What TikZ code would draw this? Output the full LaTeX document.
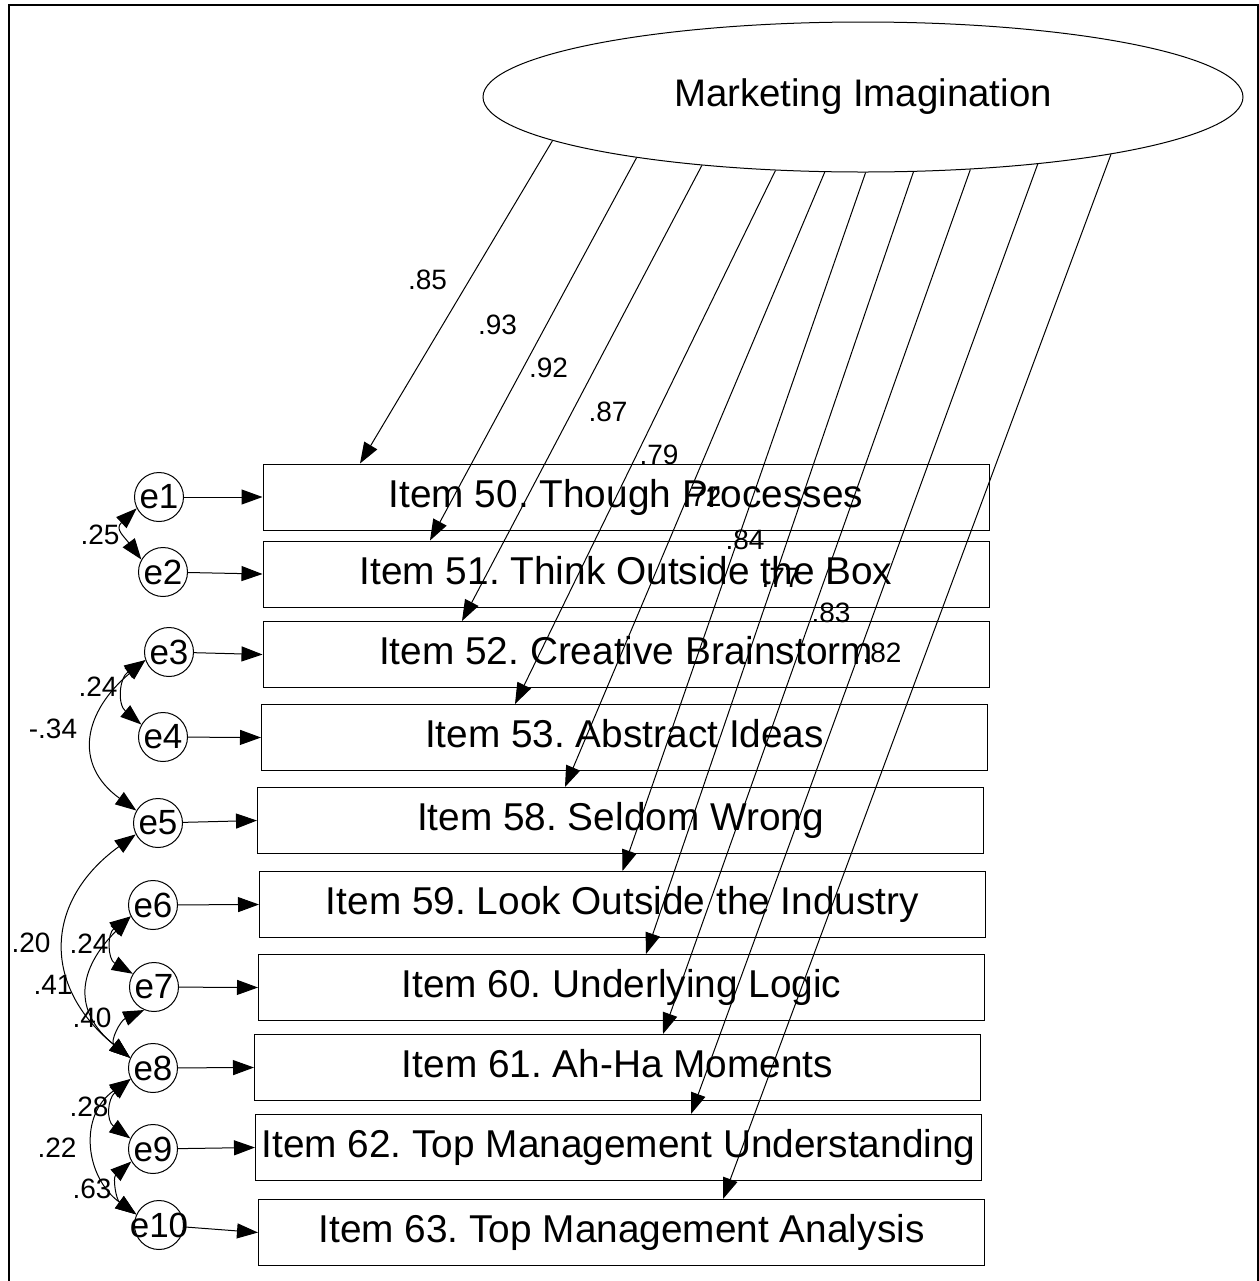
\documentclass[tikz,border=0pt]{standalone}
\usepackage{fontspec}
\setmainfont{Liberation Sans}
\usetikzlibrary{shapes.geometric,arrows.meta}
\frenchspacing

\begin{document}
\begin{tikzpicture}[x=0.5pt,y=-0.5pt,line width=0.5pt,
  >={Triangle[length=10.5pt,width=7.5pt]},
  item/.style={draw,inner sep=0pt,minimum width=363pt,minimum height=33pt,
    text height=14pt,text depth=3.9pt,font=\fontsize{19.4}{23}\selectfont},
  err/.style={draw,circle,inner sep=0pt,minimum size=24.5pt,
    font=\fontsize{17.5}{20}\selectfont},
  num/.style={inner sep=0pt,font=\fontsize{14}{16}\selectfont}]
\useasboundingbox (0,0) rectangle (1259,1281);
\draw [line width=1pt] (9,1281) -- (9,5) -- (1258,5) -- (1258,1281);
\path
  (863,97) node [draw,ellipse,inner sep=0pt,minimum width=380pt,minimum height=75pt,
    font=\fontsize{19.2}{23}\selectfont] (mi) {Marketing Imagination}
  (626,497) node [item] (i50) {Item 50. Though Processes}
  (626,574) node [item] (i51) {Item 51. Think Outside the Box}
  (626,654.5) node [item] (i52) {Item 52. Creative Brainstorm}
  (624.5,737.5) node [item] (i53) {Item 53. Abstract Ideas}
  (620.5,820.5) node [item] (i58) {Item 58. Seldom Wrong}
  (622.5,904.5) node [item] (i59) {Item 59. Look Outside the Industry}
  (621.5,987.5) node [item] (i60) {Item 60. Underlying Logic}
  (617.5,1067.5) node [item] (i61) {Item 61. Ah-Ha Moments}
  (618.5,1147.5) node [item] (i62) {Item 62. Top Management Understanding}
  (621.5,1232.5) node [item] (i63) {Item 63. Top Management Analysis};
\path
  (159,497) node [err] (e1) {e1}
  (163,572) node [err] (e2) {e2}
  (169,652) node [err] (e3) {e3}
  (163,737) node [err] (e4) {e4}
  (158,823) node [err] (e5) {e5}
  (153,905) node [err] (e6) {e6}
  (154,987) node [err] (e7) {e7}
  (153,1068) node [err] (e8) {e8}
  (153,1149) node [err] (e9) {e9}
  (159,1225) node [err] (e10) {\makebox[0pt]{e10}};
\draw [->] (e1) -- (i50.west);
\draw [->] (e2) -- (i51.west);
\draw [->] (e3) -- (i52.west);
\draw [->] (e4) -- (i53.west);
\draw [->] (e5) -- (i58.west);
\draw [->] (e6) -- (i59.west);
\draw [->] (e7) -- (i60.west);
\draw [->] (e8) -- (i61.west);
\draw [->] (e9) -- (i62.west);
\draw [->] (e10) -- (i63.west);
\draw [->] (mi.188.7) -- ([xshift=-133pt]i50.north);
\draw [->] (mi.195.1) -- ([xshift=-98pt]i51.north);
\draw [->] (mi.203.8) -- ([xshift=-82pt]i52.north);
\draw [->] (mi.220.7) -- ([xshift=-54.75pt]i53.north);
\draw [->] (mi.243.6) -- ([xshift=-27.75pt]i58.north);
\draw [->] (mi.272.3) -- (i59.north);
\draw [->] (mi.304.5) -- ([xshift=12.25pt]i60.north);
\draw [->] (mi.326.3) -- ([xshift=22.75pt]i61.north);
\draw [->] (mi.339.7) -- ([xshift=36.25pt]i62.north);
\draw [->] (mi.347.2) -- ([xshift=50.75pt]i63.north);
\draw [<->] (e1.207) to [out=223,in=127,looseness=1.5] (e2.150);
\draw [<->] (e3.199) to [out=214,in=140,looseness=1.25] (e4.150);
\draw [<->] (e3.199) to [out=220,in=144,looseness=1.35] (e5.150);
\draw [<->] (e5.207) to [out=216,in=141,looseness=1.3] (e8.156);
\draw [<->] (e6.207) to [out=216,in=150,looseness=1.3] (e7.148);
\draw [<->] (e6.207) to [out=225,in=141,looseness=1.35] (e8.156);
\draw [<->] (e7.247) to [out=204,in=141,looseness=1.35] (e8.156);
\draw [<->] (e8.206) to [out=221,in=144,looseness=1.3] (e9.155);
\draw [<->] (e8.206) to [out=215,in=144,looseness=1.2] (e10.155);
\draw [<->] (e9.210) to [out=221,in=144,looseness=1.2] (e10.155);
\path
  (427.5,280) node [num] (w50) {.85}
  (497.5,325) node [num] (w51) {.93}
  (548.5,368) node [num] (w52) {.92}
  (608,412) node [num] (w53) {.87}
  (659,455) node [num] (w58) {.79}
  (702,497) node [num] (w59) {.72}
  (745,540) node [num] (w60) {.84}
  (781,578) node [num] (w61) {.77}
  (831,613) node [num] (w62) {.83}
  (882,653) node [num] (w63) {.82};
\path
  (100,535) node [num] (r12) {.25}
  (98,687) node [num] (r34) {.24}
  (53,729) node [num] (r35) {-.34}
  (31,943) node [num] (r58) {.20}
  (89,944) node [num] (r67) {.24}
  (53,985) node [num] (r68) {.41}
  (92,1018) node [num] (r78) {.40}
  (89,1107) node [num] (r89) {.28}
  (57,1148) node [num] (r810) {.22}
  (92,1189) node [num] (r910) {.63};
\end{tikzpicture}
\end{document}
